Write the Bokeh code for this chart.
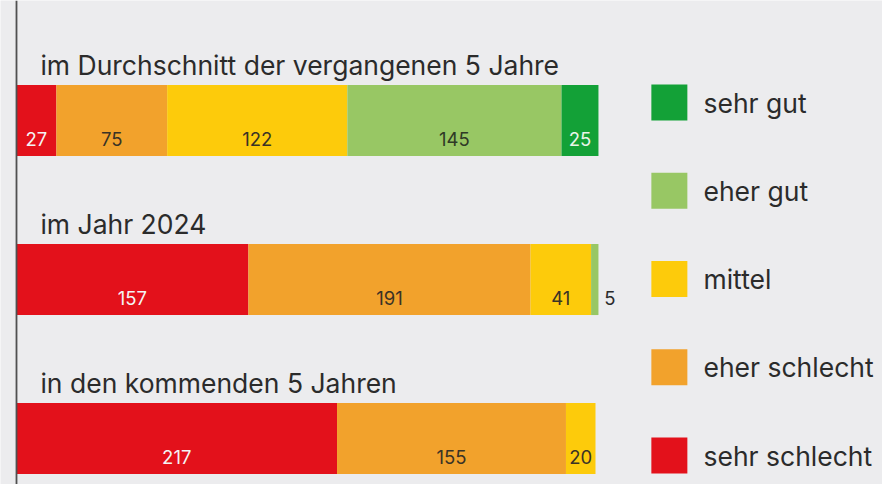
from bokeh.plotting import figure
from bokeh.models import Range1d, ColumnDataSource, Span
from bokeh.embed import file_html
from bokeh.resources import INLINE
from bokeh.core.properties import value

# ---- data ----
rows = ["im Durchschnitt der vergangenen 5 Jahre", "im Jahr 2024", "in den kommenden 5 Jahren"]
categories = ["sehr schlecht", "eher schlecht", "mittel", "eher gut", "sehr gut"]
sehr_schlecht = [27, 157, 217]
eher_schlecht = [75, 191, 155]
mittel = [122, 41, 20]
eher_gut = [145, 5, 0]
sehr_gut = [25, 0, 0]
colors = ["#e3111b", "#f2a22c", "#fdcb0b", "#98c764", "#13a137"]
label_colors = ["#f4f4f4", "#3a3326", "#3a3326", "#2f3a26", "#e8f5e8"]
legend_order = ["sehr gut", "eher gut", "mittel", "eher schlecht", "sehr schlecht"]

series = [sehr_schlecht, eher_schlecht, mittel, eher_gut, sehr_gut]

FONT = "Inter"
BG = "#ececee"
TXT = "#2b2b2b"

p = figure(width=882, height=484, output_backend="svg", toolbar_location=None,
           x_range=Range1d(-10.83, 586.3), y_range=Range1d(2.289, -0.755),
           min_border=0, background_fill_color=BG, border_fill_color=BG)
p.axis.visible = False
p.grid.visible = False
p.outline_line_color = None

bar_h = 0.4465

# stacked bars
seg = dict(y=[], left=[], right=[], color=[])
lab = dict(x=[], y=[], text=[], color=[], align=[])
for r in range(len(rows)):
    cum = 0
    for c, vals in enumerate(series):
        v = vals[r]
        if v <= 0:
            continue
        seg["y"].append(r)
        seg["left"].append(cum)
        seg["right"].append(cum + v)
        seg["color"].append(colors[c])
        if v >= 10:
            lab["x"].append(cum + v / 2)
            lab["align"].append("center")
            lab["color"].append(label_colors[c])
        else:
            lab["x"].append(cum + v + 4)
            lab["align"].append("left")
            lab["color"].append(TXT)
        lab["y"].append(r + 0.113)
        lab["text"].append(str(v))
        cum += v

p.hbar(y="y", left="left", right="right", height=bar_h, fill_color="color",
       line_color=None, source=ColumnDataSource(seg))
p.text(x="x", y="y", text="text", text_color="color", text_align="align",
       text_baseline="middle", text_font=value(FONT), text_font_size="18.5px",
       source=ColumnDataSource(lab))

# row titles
p.text(x=[16.2] * len(rows), y=[r - 0.352 for r in range(len(rows))], text=rows,
       text_color=TXT, text_baseline="alphabetic", text_align="left",
       text_font=value(FONT), text_font_size="26.5px")

# vertical axis line
p.add_layout(Span(location=0, dimension="height", line_color="#505050", line_width=1.8))

# legend
leg_colors = [colors[categories.index(n)] for n in legend_order]
leg_y = [-0.113 + i * 0.555 for i in range(len(legend_order))]
p.rect(x=[442.0] * len(legend_order), y=leg_y, width=36, height=36,
       width_units="screen", height_units="screen", fill_color=leg_colors, line_color=None)
p.text(x=[465.1] * len(legend_order), y=leg_y, text=legend_order, text_color=TXT,
       text_baseline="middle", text_align="left", text_font=value(FONT), text_font_size="26.5px")

open("out.html", "w").write(file_html(p, INLINE))
